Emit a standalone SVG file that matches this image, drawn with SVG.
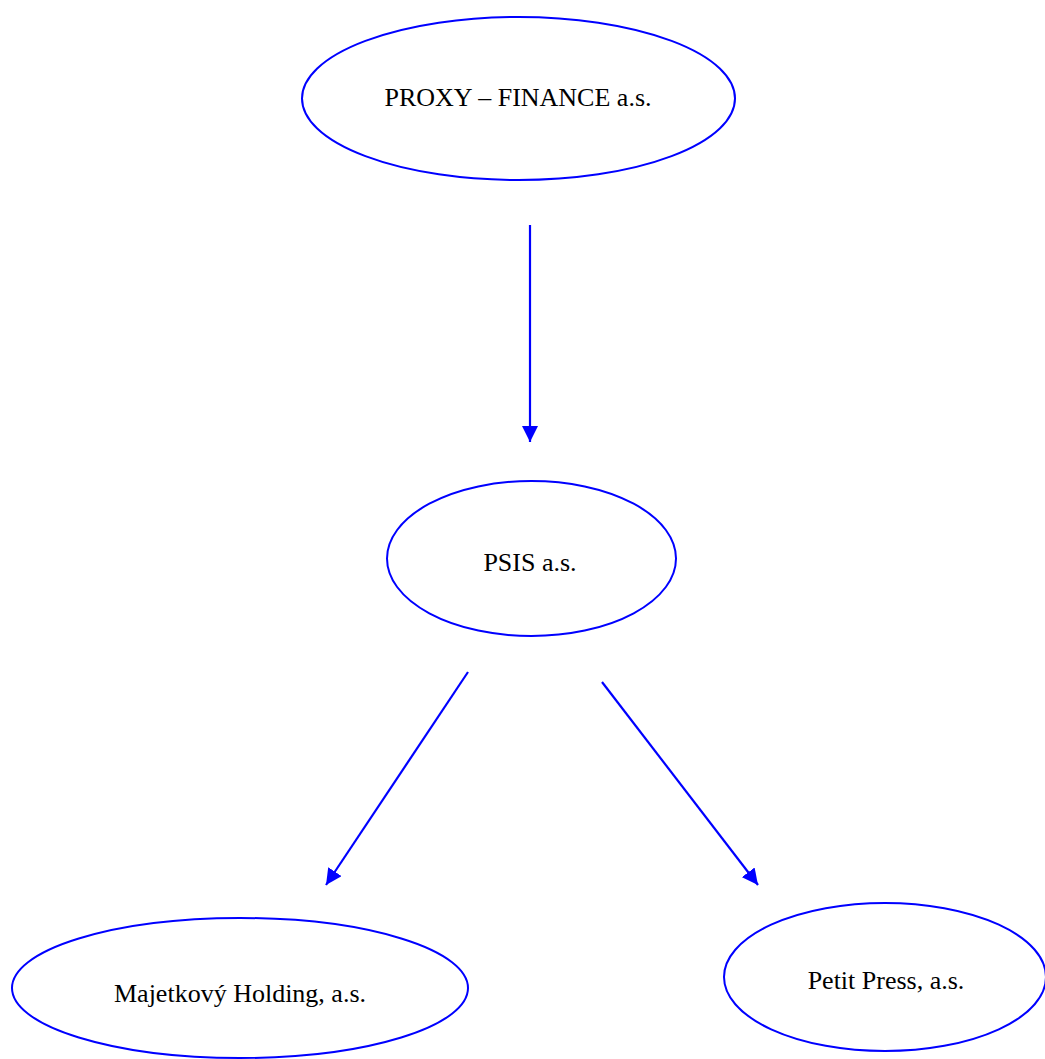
<svg xmlns="http://www.w3.org/2000/svg" width="1045" height="1059" viewBox="0 0 1045 1059">
  <style>
    .node ellipse { fill: #ffffff; stroke: #0000ff; stroke-width: 2; }
    .node text { font-family: "Liberation Serif", "Times New Roman", serif; font-size: 26px; fill: #000000; text-anchor: middle; }
    .edge { stroke: #0000ff; stroke-width: 2.2; fill: none; marker-end: url(#arrow); }
  </style>
  <defs>
    <marker id="arrow" markerUnits="userSpaceOnUse" markerWidth="16" markerHeight="16" refX="16" refY="8" orient="auto" viewBox="0 0 16 16">
      <path d="M0,0 L16,8 L0,16 z" fill="#0000ff"/>
    </marker>
  </defs>
  <rect width="1045" height="1059" fill="#ffffff"/>
  <g id="connectors">
    <line class="edge" x1="530" y1="225" x2="530" y2="442"/>
    <line class="edge" x1="468" y1="672" x2="326" y2="885"/>
    <line class="edge" x1="602" y1="682" x2="758" y2="885"/>
  </g>
  <g id="node-proxy" class="node">
    <ellipse cx="518.5" cy="98.5" rx="216.5" ry="81.5"/>
    <text x="518" y="106">PROXY – FINANCE a.s.</text>
  </g>
  <g id="node-psis" class="node">
    <ellipse cx="531.5" cy="558.5" rx="144.5" ry="77.5"/>
    <text x="530" y="571">PSIS a.s.</text>
  </g>
  <g id="node-majetkovy" class="node">
    <ellipse cx="240" cy="988" rx="228" ry="70"/>
    <text x="240" y="1002">Majetkový Holding, a.s.</text>
  </g>
  <g id="node-petit" class="node">
    <ellipse cx="885" cy="977" rx="161" ry="74"/>
    <text x="886" y="989">Petit Press, a.s.</text>
  </g>
</svg>
